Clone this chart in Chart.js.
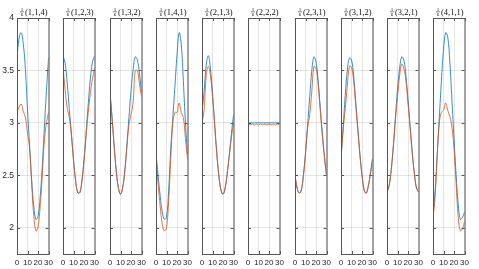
<!DOCTYPE html>
<html>
<head>
<meta charset="utf-8">
<script src="https://cdn.jsdelivr.net/npm/chart.js@4"></script>
<style>
  body { margin: 0; background: #fff; }
  #wrap { position: relative; width: 479px; height: 269px; overflow: hidden; }
  #wrap canvas { position: absolute; top: 0; }
</style>
</head>
<body>
<div id="wrap"></div>
<script>
const titles = ['(1,1,4)', '(1,2,3)', '(1,3,2)', '(1,4,1)', '(2,1,3)', '(2,2,2)', '(2,3,1)', '(3,1,2)', '(3,2,1)', '(4,1,1)'];
const xs = [0, 2, 4, 6, 8, 10, 12, 14, 16, 18, 20, 22, 24, 26, 28, 30];
const xTicks = [0, 10, 20, 30];
const yTicks = [2, 2.5, 3, 3.5, 4];

// blue = first series, orange = second series, one pair per panel
const blue114 = [3.62, 3.81, 3.86, 3.75, 3.51, 3.12, 2.78, 2.45, 2.20, 2.08, 2.11, 2.29, 2.58, 2.95, 3.31, 3.62];
const orange114 = [3.10, 3.15, 3.18, 3.11, 3.05, 2.90, 2.76, 2.41, 2.11, 1.97, 2.01, 2.20, 2.50, 2.83, 3.00, 3.10];
const blue123 = [3.64, 3.57, 3.38, 3.13, 2.90, 2.65, 2.45, 2.335, 2.335, 2.45, 2.65, 2.91, 3.18, 3.42, 3.58, 3.64];
const orange123 = [3.54, 3.32, 3.14, 3.05, 2.88, 2.64, 2.45, 2.335, 2.335, 2.45, 2.64, 2.88, 3.10, 3.28, 3.42, 3.52];
const blue132 = [3.30, 3.05, 2.78, 2.54, 2.38, 2.32, 2.38, 2.54, 2.78, 3.05, 3.31, 3.51, 3.63, 3.60, 3.47, 3.29];
const orange132 = [3.27, 3.03, 2.77, 2.53, 2.38, 2.32, 2.38, 2.53, 2.76, 2.98, 3.08, 3.20, 3.50, 3.50, 3.37, 3.25];
const blue141 = [2.71, 2.50, 2.30, 2.15, 2.08, 2.10, 2.35, 2.75, 3.05, 3.35, 3.65, 3.86, 3.75, 3.40, 3.00, 2.70];
const orange141 = [2.65, 2.42, 2.20, 2.03, 1.97, 2.00, 2.25, 2.65, 3.00, 3.10, 3.10, 3.19, 3.10, 3.05, 2.85, 2.65];
const blue213 = [3.10, 3.30, 3.55, 3.64, 3.52, 3.28, 3.00, 2.72, 2.50, 2.36, 2.32, 2.38, 2.52, 2.70, 2.90, 3.08];
const orange213 = [3.00, 3.12, 3.45, 3.54, 3.45, 3.25, 2.98, 2.71, 2.50, 2.36, 2.32, 2.38, 2.52, 2.69, 2.86, 3.00];
const blue222 = [3.0, 3.0, 3.0, 3.0, 3.0, 3.0, 3.0, 3.0, 3.0, 3.0, 3.0, 3.0, 3.0, 3.0, 3.0, 3.0];
const orange222 = [2.99, 2.98, 2.99, 2.98, 2.99, 2.98, 2.99, 2.98, 2.99, 2.98, 2.99, 2.98, 2.99, 2.98, 2.99, 2.98];
const blue231 = [2.50, 2.38, 2.33, 2.36, 2.50, 2.72, 2.98, 3.25, 3.50, 3.63, 3.58, 3.40, 3.15, 2.90, 2.68, 2.50];
const orange231 = [2.50, 2.38, 2.33, 2.36, 2.50, 2.70, 2.95, 3.08, 3.30, 3.54, 3.52, 3.37, 3.12, 2.88, 2.67, 2.50];
const blue312 = [2.66, 2.95, 3.26, 3.50, 3.62, 3.60, 3.45, 3.20, 2.95, 2.70, 2.50, 2.36, 2.33, 2.40, 2.52, 2.66];
const orange312 = [2.65, 2.93, 3.13, 3.35, 3.54, 3.53, 3.40, 3.17, 2.93, 2.69, 2.50, 2.36, 2.33, 2.40, 2.52, 2.65];
const blue321 = [2.34, 2.40, 2.55, 2.78, 3.05, 3.32, 3.52, 3.63, 3.60, 3.45, 3.22, 2.97, 2.72, 2.52, 2.38, 2.34];
const orange321 = [2.34, 2.40, 2.55, 2.77, 3.03, 3.25, 3.45, 3.56, 3.52, 3.40, 3.18, 2.95, 2.71, 2.52, 2.38, 2.34];
const blue411 = [2.12, 2.35, 2.70, 3.05, 3.40, 3.70, 3.86, 3.82, 3.58, 3.22, 2.85, 2.50, 2.22, 2.08, 2.10, 2.15];
const orange411 = [2.08, 2.30, 2.68, 3.00, 3.10, 3.12, 3.19, 3.12, 3.06, 2.96, 2.75, 2.42, 2.10, 1.97, 1.99, 2.06];

const panels = [
    [blue114, orange114], [blue123, orange123], [blue132, orange132], [blue141, orange141], [blue213, orange213],
    [blue222, orange222], [blue231, orange231], [blue312, orange312], [blue321, orange321], [blue411, orange411]
];

const AXIS = '#262626';
const GRID = 'rgba(38,38,38,0.12)';

// matlab-ish box: frame, inward ticks, title with small 1/6 fraction
const boxPlugin = {
    id: 'box',
    afterDraw(chart, args, opts) {
        const { ctx, chartArea: a, scales } = chart;
        ctx.save();
        ctx.strokeStyle = '#555';
        ctx.lineWidth = 1;
        ctx.strokeRect(a.left + 0.5, a.top + 0.5, a.right - a.left, a.bottom - a.top);
        ctx.beginPath();
        xTicks.forEach(v => {
            const px = Math.round(scales.x.getPixelForValue(v)) + 0.5;
            ctx.moveTo(px, a.bottom); ctx.lineTo(px, a.bottom - 3);
            ctx.moveTo(px, a.top); ctx.lineTo(px, a.top + 3);
        });
        yTicks.forEach(v => {
            const py = Math.round(scales.y.getPixelForValue(v)) + 0.5;
            ctx.moveTo(a.left, py); ctx.lineTo(a.left + 3, py);
            ctx.moveTo(a.right, py); ctx.lineTo(a.right - 3, py);
        });
        ctx.stroke();

        const cx = (a.left + a.right) / 2 + 1;
        ctx.fillStyle = '#111';
        ctx.font = '8.5px "Liberation Serif"';
        const tw = ctx.measureText(opts.text).width;
        const fw = 4;
        const x0 = cx - (tw + fw + 1) / 2;
        ctx.textBaseline = 'alphabetic';
        ctx.textAlign = 'left';
        ctx.fillText(opts.text, x0 + fw + 1, 15);
        ctx.font = '5px "Liberation Serif"';
        ctx.textAlign = 'center';
        ctx.fillText('1', x0 + fw / 2, 10.5);
        ctx.fillText('6', x0 + fw / 2, 16);
        ctx.strokeStyle = '#333';
        ctx.lineWidth = 0.6;
        ctx.beginPath();
        ctx.moveTo(x0, 11.8); ctx.lineTo(x0 + fw, 11.8);
        ctx.stroke();
        ctx.restore();
    }
};

const wrap = document.getElementById('wrap');
panels.forEach((pair, k) => {
    const left = Math.round(17 + 46.25 * k);
    const padL = k === 0 ? 0 : 7;
    const yW = k === 0 ? 17 : 0;
    const canvas = document.createElement('canvas');
    canvas.width = padL + yW + 33 + 7;
    canvas.height = 269;
    canvas.style.left = (k === 0 ? 0 : left - 7) + 'px';
    wrap.appendChild(canvas);

    new Chart(canvas, {
        type: 'line',
        data: {
            datasets: pair.map((arr, i) => ({
                data: xs.map((x, j) => ({ x: x, y: arr[j] })),
                borderColor: i === 0 ? '#0072BD' : '#D95319',
                borderWidth: 0.8,
                pointRadius: 0,
                tension: 0.4,
                fill: false,
                order: i === 0 ? 1 : 0,   // orange drawn on top
            }))
        },
        options: {
            responsive: false,
            animation: false,
            devicePixelRatio: 1,
            layout: { padding: { left: padL, right: 7, top: 18, bottom: 0 } },
            plugins: {
                legend: { display: false },
                tooltip: { enabled: false },
                box: { text: titles[k] },
            },
            scales: {
                x: {
                    type: 'linear',
                    min: 0,
                    max: 30,
                    afterBuildTicks: s => { s.ticks = xTicks.map(v => ({ value: v })); },
                    afterFit: s => { s.height = 15; },
                    grid: { color: GRID, drawTicks: false },
                    border: { display: false },
                    ticks: { padding: 4, color: AXIS, maxRotation: 0, autoSkip: false, font: { family: 'Liberation Sans', size: 8 } },
                },
                y: {
                    min: 1.75,
                    max: 4,
                    afterBuildTicks: s => { s.ticks = yTicks.map(v => ({ value: v })); },
                    afterFit: s => { s.width = yW; },
                    grid: { color: GRID, drawTicks: false },
                    border: { display: false },
                    ticks: { display: k === 0, padding: 3, color: AXIS, callback: v => String(v), font: { family: 'Liberation Sans', size: 8.5 } },
                }
            }
        },
        plugins: [boxPlugin]
    });
});
</script>
</body>
</html>
